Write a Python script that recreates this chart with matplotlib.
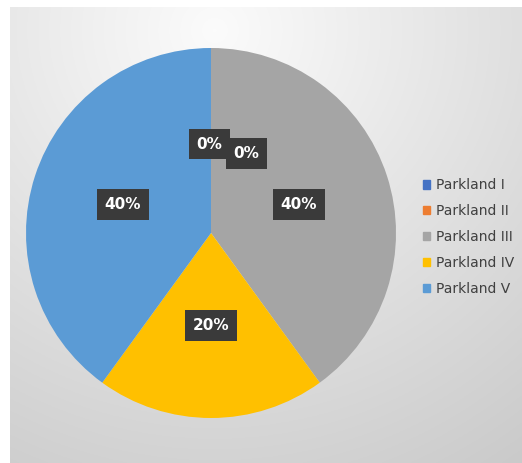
import numpy as np
import matplotlib
matplotlib.use("Agg")
import matplotlib.pyplot as plt

categories = ["Parkland I", "Parkland II", "Parkland III", "Parkland IV", "Parkland V"]
values = [0, 0, 40, 20, 40]
colors = ["#4472C4", "#ED7D31", "#A5A5A5", "#FFC000", "#5B9BD5"]

W, H = 522, 463
fig = plt.figure(figsize=(W / 100, H / 100), dpi=100)
fig.patch.set_facecolor("white")

# background gradient panel
bg = fig.add_axes([10 / W, 0, 1 - 10 / W, 456 / H])
yy, xx = np.mgrid[0:1:300j, 0:1:300j]
cx, cy = 0.4, 0.95
d = np.sqrt(((xx - cx) * 1.1) ** 2 + ((yy - cy) * 1.0) ** 2)
val = 0.985 - 0.2 * np.clip(d, 0, 1.2) / 1.2
val = np.clip(val, 0.76, 0.99)
img = np.dstack([val, val, val])
bg.imshow(img, extent=[0, 1, 0, 1], origin="lower", aspect="auto")
bg.set_axis_off()

# pie axes
cxp, cyp, r = 211, 233, 185
ax = fig.add_axes([(cxp - r) / W, 1 - (cyp + r) / H, 2 * r / W, 2 * r / H])
wedges, _, autotexts = ax.pie(
    values, colors=colors, startangle=90, counterclock=False,
    autopct="%1.0f%%", pctdistance=0.5,
    wedgeprops=dict(linewidth=0),
    textprops=dict(color="white", fontsize=11, fontweight="bold"),
)
ax.set_xlim(-1, 1)
ax.set_ylim(-1, 1)
ax.set_aspect("auto")

# Excel's best-fit label placement adjustments (angle override for zero slices)
label_angles = [91, 66, None, None, None]
label_dist = [0.48, 0.47, 0.5, 0.5, 0.5]
for i, t in enumerate(autotexts):
    w = wedges[i]
    ang = label_angles[i] if label_angles[i] is not None else (w.theta1 + w.theta2) / 2
    rad = np.deg2rad(ang)
    t.set_position((label_dist[i] * np.cos(rad), label_dist[i] * np.sin(rad)))
    t.set_bbox(dict(facecolor="#3a3a3a", edgecolor="none", boxstyle="square,pad=0.5"))

# legend
handles = [plt.Rectangle((0, 0), 1, 1, color=c) for c in colors]
leg = fig.legend(handles, categories, loc="center left",
                 bbox_to_anchor=(410 / W, 1 - 237 / H),
                 frameon=False, fontsize=10, handlelength=0.55, handleheight=0.55,
                 handletextpad=0.4, labelspacing=0.85, labelcolor="#404040")

fig.savefig("out.png", dpi=100)
